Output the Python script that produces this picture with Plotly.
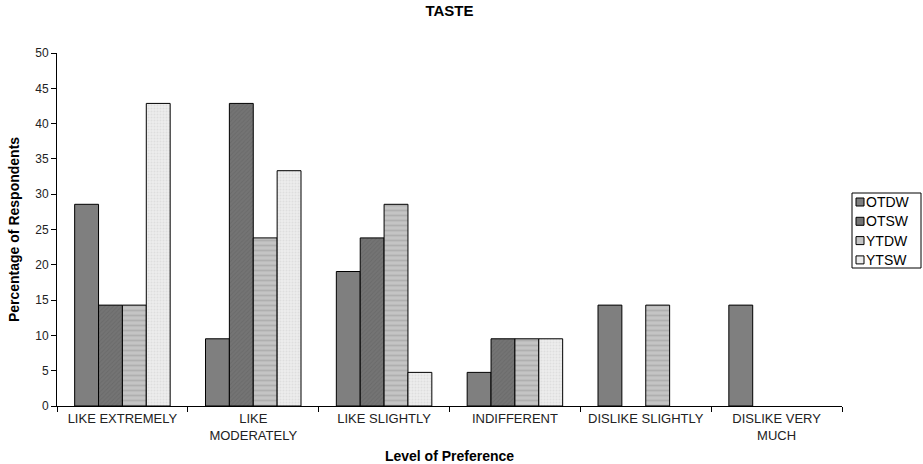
import plotly.graph_objects as go

categories = ["LIKE EXTREMELY", "LIKE<br>MODERATELY", "LIKE SLIGHTLY",
              "INDIFFERENT", "DISLIKE SLIGHTLY", "DISLIKE VERY<br>MUCH"]
series_names = ["OTDW", "OTSW", "YTDW", "YTSW"]
otdw = [28.57, 9.52, 19.05, 4.76, 14.29, 14.29]
otsw = [14.29, 42.86, 23.81, 9.52, 0, 0]
ytdw = [14.29, 23.81, 28.57, 9.52, 14.29, 0]
ytsw = [42.86, 33.33, 4.76, 9.52, 0, 0]
y_ticks = [0, 5, 10, 15, 20, 25, 30, 35, 40, 45, 50]

fills = ["#7f7f7f", "#747474", "#c4c4c4", "#ececec"]
patterns = [
    dict(shape=""),
    dict(shape="/", size=3, solidity=0.3, fgcolor="#5f5f5f"),
    dict(shape="-", size=5, solidity=0.35, fgcolor="#9a9a9a"),
    dict(shape=".", size=3, solidity=0.3, fgcolor="#d0d0d0"),
]

fig = go.Figure()
for name, vals, color, pattern in zip(series_names, [otdw, otsw, ytdw, ytsw], fills, patterns):
    fig.add_trace(go.Bar(
        name=name, x=categories, y=vals, showlegend=False,
        marker=dict(color=color, pattern=pattern,
                    line=dict(color="black", width=[1 if v > 0 else 0 for v in vals])),
    ))

# plot area in pixels: x 57..842, y 53..406
L, R, T, B = 57, 842, 53, 406


def px(x):
    return (x - L) / (R - L)


def py(y):
    return (B - y) / (B - T)


# compact boxed legend to the right of the plot
fig.add_shape(type="rect", xref="paper", yref="paper",
              x0=px(852), x1=px(921), y0=py(193), y1=py(268),
              line=dict(color="black", width=1), fillcolor="white")
for i, (name, color) in enumerate(zip(series_names, fills)):
    cy = 202 + i * 19.3
    fig.add_shape(type="rect", xref="paper", yref="paper",
                  x0=px(856), x1=px(864), y0=py(cy + 4), y1=py(cy - 4),
                  line=dict(color="black", width=1), fillcolor=color)
    fig.add_annotation(text=name, xref="paper", yref="paper", x=px(864), y=py(cy),
                       xanchor="left", yanchor="middle", showarrow=False,
                       font=dict(size=14))

fig.update_layout(
    width=923, height=464,
    barmode="group", bargap=0.27, bargroupgap=0,
    plot_bgcolor="white", paper_bgcolor="white",
    font=dict(family="Arial, Liberation Sans, sans-serif", size=12, color="black"),
    margin=dict(l=L, r=923 - R, t=T, b=464 - B, autoexpand=False),
    title=dict(text="<b>TASTE</b>", x=0.5, xref="paper", xanchor="center",
               y=0.988, yanchor="top", font=dict(size=15)),
    xaxis=dict(title=dict(text="<b>Level of Preference</b>", font=dict(size=14), standoff=14),
               automargin=False,
               showline=True, linecolor="black", linewidth=1,
               ticks="outside", tickson="boundaries", ticklen=5, tickcolor="black",
               showgrid=False, tickfont=dict(size=13, color="#222")),
    yaxis=dict(title=dict(text="<b>Percentage of Respondents</b>", font=dict(size=14), standoff=12),
               automargin=False,
               range=[0, 50], tickvals=y_ticks, showline=True, linecolor="black",
               linewidth=1, ticks="outside", ticklen=5, tickcolor="black",
               showgrid=False, zeroline=False, tickfont=dict(size=12, color="#222")),
)

fig.write_html("out.html")
